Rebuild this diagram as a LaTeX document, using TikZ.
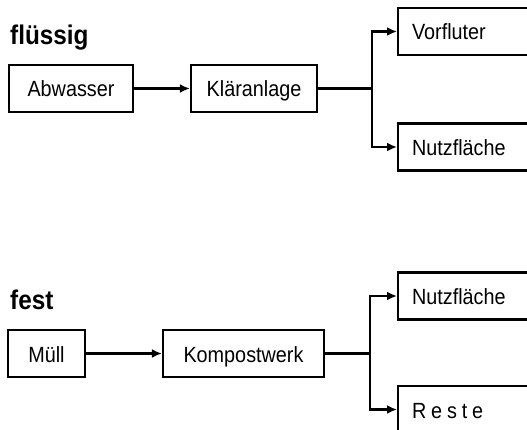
\documentclass[tikz,border=0pt]{standalone}
\usepackage{fontspec}
\setmainfont{Liberation Sans}
\usepackage{tikz}
\usetikzlibrary{arrows.meta}

\begin{document}
\begin{tikzpicture}[x=1pt, y=-1pt,
			>={Latex[length=10pt, width=9pt]},   %Voreinstellung für Pfeilspitzen
			rahmen/.style={draw, line width=2.2pt, minimum height=47pt, inner sep=0pt, text height=18.5pt, text depth=1.5pt,
				font=\fontsize{22}{26}\selectfont\addfontfeature{FakeStretch=0.9}},
			zielbox/.style={rahmen, anchor=west, text width=130pt, align=left, inner xsep=14pt},
			titel/.style={anchor=base west, inner sep=0pt, font=\fontsize{27}{32}\selectfont\bfseries\addfontfeature{FakeStretch=0.9}},
			linie/.style={line width=2.2pt}]
			%Bildbereich festlegen
			\clip (0,0) rectangle (527,430);
			% flüssige Abfälle
			\node[titel] (fluessig) at (10,45) {flüssig};
			\node[rahmen, minimum width=124pt] (abwasser) at (71,88.5) {Abwasser};
			\node[rahmen, minimum width=126pt] (klaer) at (254,88.5) {Kläranlage};
			\node[zielbox] (vorfluter) at (397,31.5) {Vorfluter};
			\node[zielbox] (nutzflaeche1) at (397,147) {Nutzfläche};
			\coordinate (verzw1) at (372,88.5);
			% Pfeile zeichnen
			\draw[linie, ->] (abwasser) -- (klaer);
			\draw[linie] (klaer) -- (verzw1);
			\draw[linie, ->] (verzw1) |- (vorfluter);
			\draw[linie, ->] (verzw1) |- (nutzflaeche1);
			% feste Abfälle
			\node[titel] (fest) at (10,309) {fest};
			\node[rahmen, minimum width=77pt] (muell) at (46.5,353.5) {Müll};
			\node[rahmen, minimum width=161pt] (kompost) at (243.5,353.5) {Kompostwerk};
			\node[zielbox] (nutzflaeche2) at (397,296) {Nutzfläche};
			\node[zielbox] (reste) at (397,409.5) {\addfontfeature{LetterSpace=22}Reste};
			\coordinate (verzw2) at (370,353.5);
			% Pfeile zeichnen
			\draw[linie, ->] (muell) -- (kompost);
			\draw[linie] (kompost) -- (verzw2);
			\draw[linie, ->] (verzw2) |- (nutzflaeche2);
			\draw[linie, ->] (verzw2) |- (reste);
		\end{tikzpicture}
\end{document}
